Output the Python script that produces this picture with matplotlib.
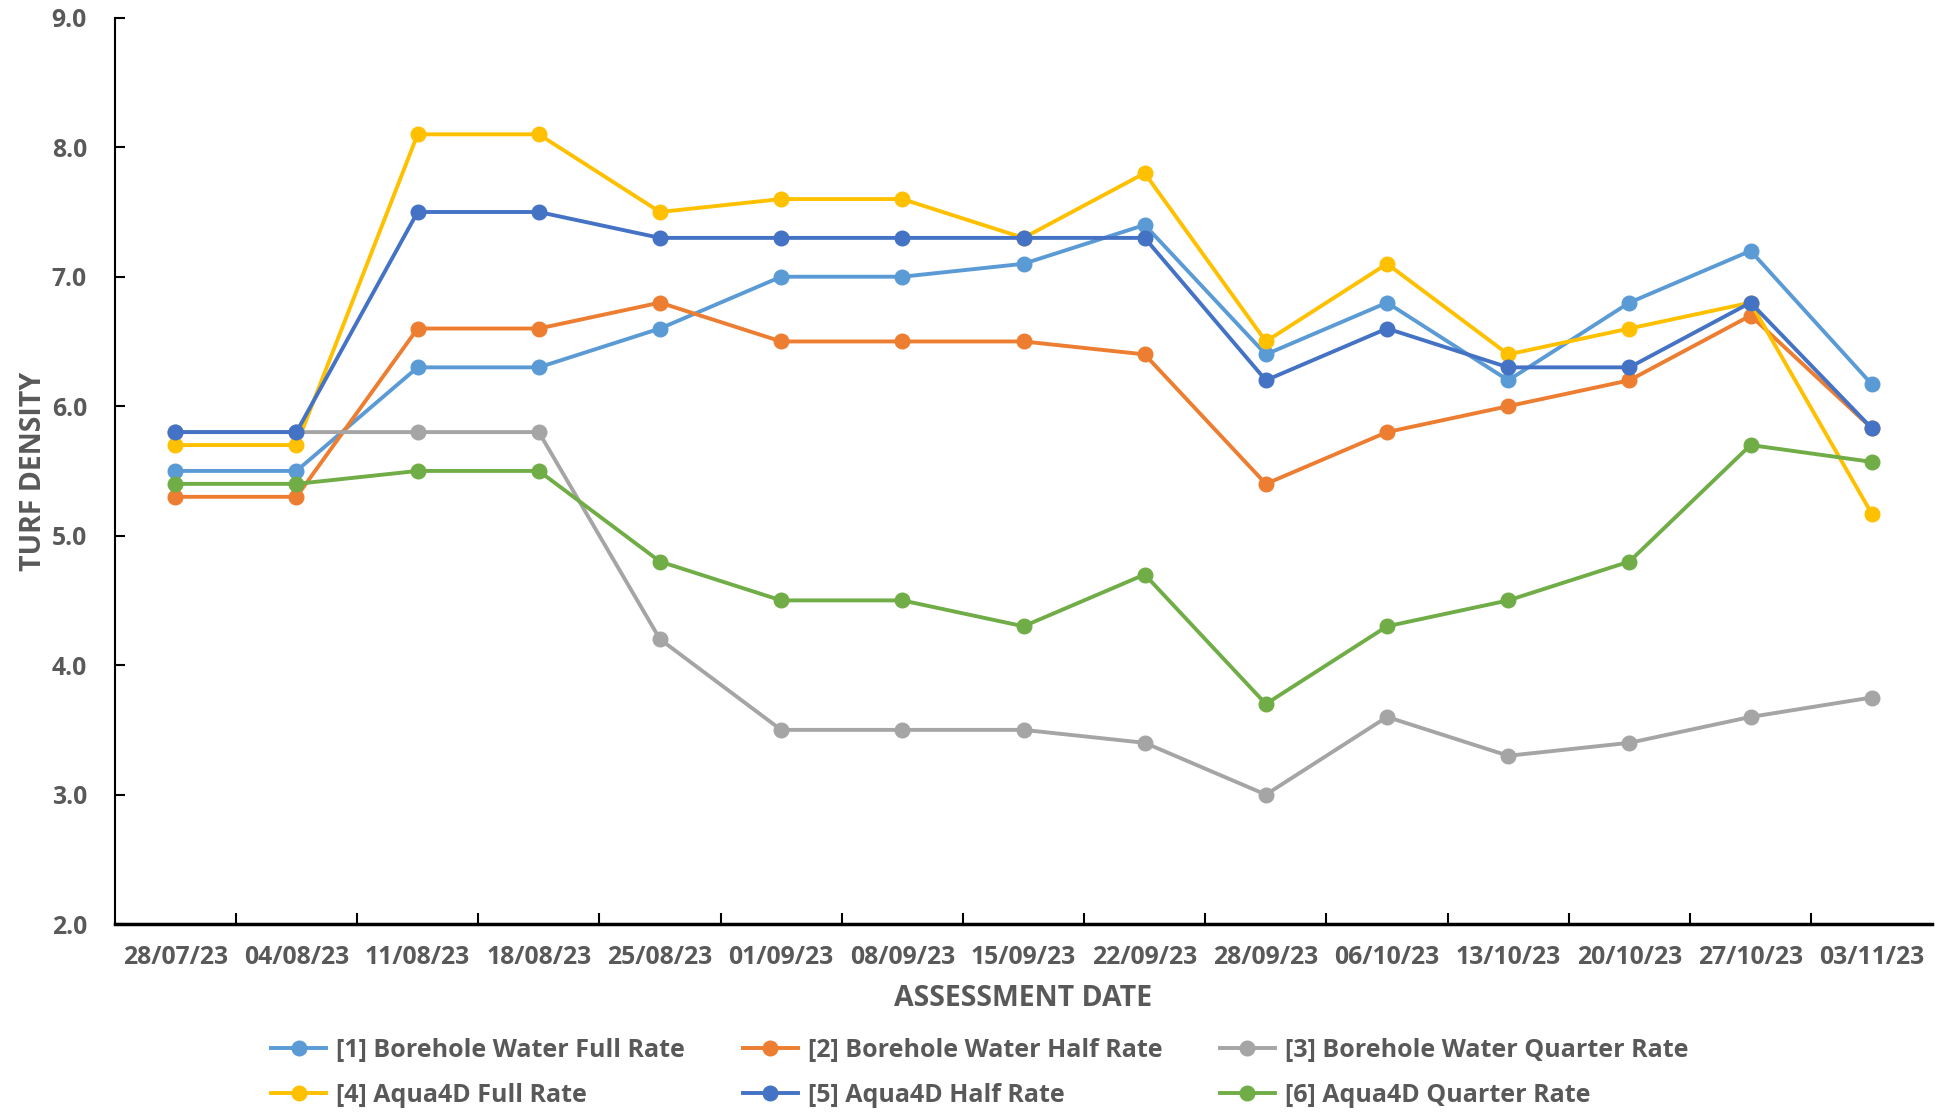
import matplotlib.pyplot as plt
from matplotlib.ticker import FixedLocator, FormatStrFormatter

dates = ["28/07/23", "04/08/23", "11/08/23", "18/08/23", "25/08/23",
         "01/09/23", "08/09/23", "15/09/23", "22/09/23", "28/09/23",
         "06/10/23", "13/10/23", "20/10/23", "27/10/23", "03/11/23"]

bw_full = [5.5, 5.5, 6.3, 6.3, 6.6, 7.0, 7.0, 7.1, 7.4, 6.4, 6.8, 6.2, 6.8, 7.2, 6.17]
bw_half = [5.3, 5.3, 6.6, 6.6, 6.8, 6.5, 6.5, 6.5, 6.4, 5.4, 5.8, 6.0, 6.2, 6.7, 5.83]
bw_quarter = [5.8, 5.8, 5.8, 5.8, 4.2, 3.5, 3.5, 3.5, 3.4, 3.0, 3.6, 3.3, 3.4, 3.6, 3.75]
a4d_full = [5.7, 5.7, 8.1, 8.1, 7.5, 7.6, 7.6, 7.3, 7.8, 6.5, 7.1, 6.4, 6.6, 6.8, 5.17]
a4d_half = [5.8, 5.8, 7.5, 7.5, 7.3, 7.3, 7.3, 7.3, 7.3, 6.2, 6.6, 6.3, 6.3, 6.8, 5.83]
a4d_quarter = [5.4, 5.4, 5.5, 5.5, 4.8, 4.5, 4.5, 4.3, 4.7, 3.7, 4.3, 4.5, 4.8, 5.7, 5.57]

series = [
    ("[1] Borehole Water Full Rate", bw_full, "#5B9BD5"),
    ("[2] Borehole Water Half Rate", bw_half, "#ED7D31"),
    ("[3] Borehole Water Quarter Rate", bw_quarter, "#A5A5A5"),
    ("[4] Aqua4D Full Rate", a4d_full, "#FFC000"),
    ("[5] Aqua4D Half Rate", a4d_half, "#4472C4"),
    ("[6] Aqua4D Quarter Rate", a4d_quarter, "#70AD47"),
]

TEXT_COLOR = "#595959"
plt.rcParams["font.family"] = ["Open Sans", "DejaVu Sans"]
plt.rcParams["font.weight"] = "bold"

fig = plt.figure(figsize=(19.44, 11.12), dpi=100)
ax = fig.add_axes([0.059, 0.169, 0.935, 0.815])

x = list(range(len(dates)))
handles = []
for label, values, color in series:
    (line,) = ax.plot(x, values, color=color, linewidth=2.8, marker="o",
                      markersize=10.5, label=label, zorder=3)
    handles.append(line)

# Оси
ax.set_xlim(-0.5, len(dates) - 0.5)
ax.set_ylim(2.0, 9.0)
ax.xaxis.set_major_locator(FixedLocator(x))
ax.set_xticklabels(dates)
ax.xaxis.set_minor_locator(FixedLocator([i + 0.5 for i in range(len(dates) - 1)]))
ax.yaxis.set_major_locator(FixedLocator([2, 3, 4, 5, 6, 7, 8, 9]))
ax.yaxis.set_major_formatter(FormatStrFormatter("%.1f"))

ax.tick_params(axis="x", which="major", length=0, pad=15,
               labelsize=17.8, labelcolor=TEXT_COLOR)
ax.tick_params(axis="x", which="minor", direction="in", length=8, width=1.5)
ax.tick_params(axis="y", direction="in", length=7, width=1.5, pad=20,
               labelsize=17.8, labelcolor=TEXT_COLOR)

for side in ("top", "right"):
    ax.spines[side].set_visible(False)
ax.spines["left"].set_linewidth(1.5)
ax.spines["bottom"].set_linewidth(2.5)

ax.set_xlabel("ASSESSMENT DATE", fontsize=20.5, color=TEXT_COLOR,
              fontweight="bold", labelpad=10)
ax.set_ylabel("TURF DENSITY", fontsize=20.5, color=TEXT_COLOR,
              fontweight="bold", labelpad=3)

# Легенда: по три серии в строке
order = [0, 3, 1, 4, 2, 5]
leg = fig.legend([handles[i] for i in order], [series[i][0] for i in order],
                 loc="center", bbox_to_anchor=(0.504, 0.035), ncol=3,
                 frameon=False, fontsize=18, handlelength=2.2,
                 handletextpad=0.4, columnspacing=2.3, labelspacing=0.8)
for t in leg.get_texts():
    t.set_color(TEXT_COLOR)

fig.savefig("out.png", dpi=100)
